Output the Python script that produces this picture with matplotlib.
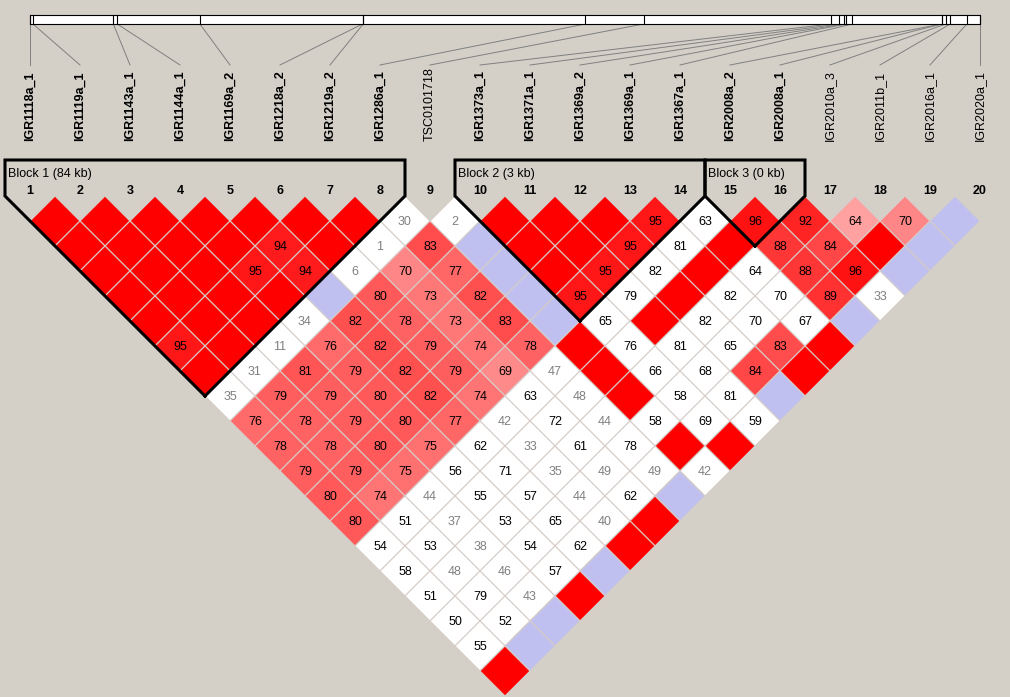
import matplotlib.pyplot as plt
from matplotlib.patches import Polygon, Rectangle
import numpy as np

# marker info
marker_names = ['IGR1118a_1', 'IGR1119a_1', 'IGR1143a_1', 'IGR1144a_1', 'IGR1169a_2',
                'IGR1218a_2', 'IGR1219a_2', 'IGR1286a_1', 'TSC0101718', 'IGR1373a_1',
                'IGR1371a_1', 'IGR1369a_2', 'IGR1369a_1', 'IGR1367a_1', 'IGR2008a_2',
                'IGR2008a_1', 'IGR2010a_3', 'IGR2011b_1', 'IGR2016a_1', 'IGR2020a_1']
marker_bold = [1, 1, 1, 1, 1, 1, 1, 1, 0, 1, 1, 1, 1, 1, 1, 1, 0, 0, 0, 0]
# physical position of each marker (kb from the first)
marker_kb = [0.0, 0.45, 12.6, 13.2, 25.7, 50.3, 50.4, 84.0, 92.8, 121.1,
             122.4, 123.2, 123.5, 124.4, 137.9, 137.9, 138.5, 139.2, 141.7, 143.7]

# haplotype blocks (first marker, last marker, label)
blocks = [(1, 8, 'Block 1 (84 kb)'),
          (10, 14, 'Block 2 (3 kb)'),
          (15, 16, 'Block 3 (0 kb)')]

# D' x 100 for pair (i, i+r), one list per distance r = 1..19
dprime_rows = [
    [100, 100, 100, 100, 100, 100, 100, 30, 2, 100, 100, 100, 95, 63, 96, 92, 64, 70, 100],
    [100, 100, 100, 100, 94, 100, 1, 83, 100, 100, 100, 95, 81, 100, 88, 84, 100, 100],
    [100, 100, 100, 95, 94, 6, 70, 77, 100, 100, 95, 82, 100, 64, 88, 96, 100],
    [100, 100, 100, 100, 100, 80, 73, 82, 100, 95, 79, 100, 82, 70, 89, 33],
    [100, 100, 100, 34, 82, 78, 73, 83, 100, 65, 100, 82, 70, 67, 100],
    [95, 100, 11, 76, 82, 79, 74, 78, 100, 76, 81, 65, 83, 100],
    [100, 31, 81, 79, 82, 79, 69, 47, 100, 66, 68, 84, 100],
    [35, 79, 79, 80, 82, 74, 63, 48, 100, 58, 81, 100],
    [76, 78, 79, 80, 77, 42, 72, 44, 58, 69, 59],
    [78, 78, 80, 75, 62, 33, 61, 78, 100, 100],
    [79, 79, 75, 56, 71, 35, 49, 49, 42],
    [80, 74, 44, 55, 57, 44, 62, 100],
    [80, 51, 37, 53, 65, 40, 100],
    [54, 53, 38, 54, 62, 100],
    [58, 48, 46, 57, 100],
    [51, 79, 43, 100],
    [50, 52, 100],
    [55, 100],
    [100],
]
# 1 where LOD >= 2
lod_strong_rows = [
    [1, 1, 1, 1, 1, 1, 1, 0, 0, 1, 1, 1, 1, 0, 1, 1, 1, 1, 0],
    [1, 1, 1, 1, 1, 1, 0, 1, 0, 1, 1, 1, 0, 1, 1, 1, 1, 0],
    [1, 1, 1, 1, 1, 0, 1, 1, 0, 1, 1, 0, 1, 0, 1, 1, 0],
    [1, 1, 1, 1, 0, 1, 1, 1, 0, 1, 0, 1, 0, 0, 1, 0],
    [1, 1, 1, 0, 1, 1, 1, 1, 0, 0, 1, 0, 0, 0, 0],
    [1, 1, 0, 1, 1, 1, 1, 1, 1, 0, 0, 0, 1, 1],
    [1, 0, 1, 1, 1, 1, 1, 0, 1, 0, 0, 1, 1],
    [0, 1, 1, 1, 1, 1, 0, 0, 1, 0, 0, 0],
    [1, 1, 1, 1, 1, 0, 0, 0, 0, 0, 0],
    [1, 1, 1, 1, 0, 0, 0, 0, 1, 1],
    [1, 1, 1, 0, 0, 0, 0, 0, 0],
    [1, 1, 0, 0, 0, 0, 0, 0],
    [1, 0, 0, 0, 0, 0, 1],
    [0, 0, 0, 0, 0, 1],
    [0, 0, 0, 0, 0],
    [0, 0, 0, 1],
    [0, 0, 0],
    [0, 0],
    [1],
]

# layout (pixel units)
BG = '#d4d0c8'
COL0, COL_STEP = 30, 50
ROW0, HALF = 221, 25
BAR_X0, BAR_X1, BAR_Y0, BAR_Y1 = 30, 980, 15, 24
FONT = 'Liberation Sans'


def col(i):
    return COL0 + COL_STEP * (i - 1)


def cell_color(d, strong):
    # standard D'/LOD scheme
    if strong:
        if d >= 100:
            return (1.0, 0.0, 0.0)
        g = max(0.0, (255 - 32) * 2 * (1 - d / 100.0)) / 255.0
        return (1.0, g, g)
    if d >= 100:
        return (192 / 255., 192 / 255., 240 / 255.)
    return (1.0, 1.0, 1.0)


fig = plt.figure(figsize=(10.1, 6.97), dpi=100, facecolor=BG)
ax = fig.add_axes([0, 0, 1, 1])
ax.set_xlim(0, 1010)
ax.set_ylim(697, 0)
ax.axis('off')

# physical map bar
ax.add_patch(Rectangle((BAR_X0, BAR_Y0), BAR_X1 - BAR_X0, BAR_Y1 - BAR_Y0,
                       facecolor='white', edgecolor='black', lw=0.8, zorder=2))
kb = np.array(marker_kb)
tick_x = BAR_X0 + (kb - kb.min()) / (kb.max() - kb.min()) * (BAR_X1 - BAR_X0)
for k, tx in enumerate(tick_x):
    ax.plot([tx, tx], [BAR_Y0, BAR_Y1], color='black', lw=0.8, zorder=3)
    ax.plot([tx, col(k + 1)], [BAR_Y1, 65], color='#808080', lw=0.7, zorder=1)

# marker names and numbers
for k, name in enumerate(marker_names):
    ax.text(col(k + 1), 141, name, rotation=90, ha='center', va='bottom',
            fontsize=9, family=FONT, fontweight='bold' if marker_bold[k] else 'normal')
    ax.text(col(k + 1), 191, str(k + 1), ha='center', va='center',
            fontsize=9, family=FONT, fontweight='bold')

# LD diamonds
for r, (drow, srow) in enumerate(zip(dprime_rows, lod_strong_rows), start=1):
    for k, (d, s) in enumerate(zip(drow, srow)):
        i = k + 1
        j = i + r
        cx = (col(i) + col(j)) / 2.0
        cy = ROW0 + (r - 1) * HALF
        pts = [(cx - HALF, cy), (cx, cy - HALF), (cx + HALF, cy), (cx, cy + HALF)]
        ax.add_patch(Polygon(pts, closed=True, facecolor=cell_color(d, s),
                             edgecolor='#d6cdc8', lw=0.8, zorder=2))
        if d < 100:
            ax.text(cx, cy + 1, str(d), ha='center', va='center', fontsize=9,
                    family=FONT, color='#808080' if d < 50 else 'black', zorder=4)

# block outlines
for a, b, label in blocks:
    left = col(a) - HALF
    right = col(b) + HALF
    bottom = 196 + (right - left) / 2.0
    xs = [(left + right) / 2.0, left, left, right, right, (left + right) / 2.0]
    ys = [bottom, 196, 160, 160, 196, bottom]
    ax.plot(xs, ys, color='black', lw=2.2, solid_joinstyle='miter', zorder=5)
    ax.text(left + 3, 174, label, ha='left', va='center', fontsize=9, family=FONT)

fig.savefig('out.png', dpi=100, facecolor=fig.get_facecolor())
